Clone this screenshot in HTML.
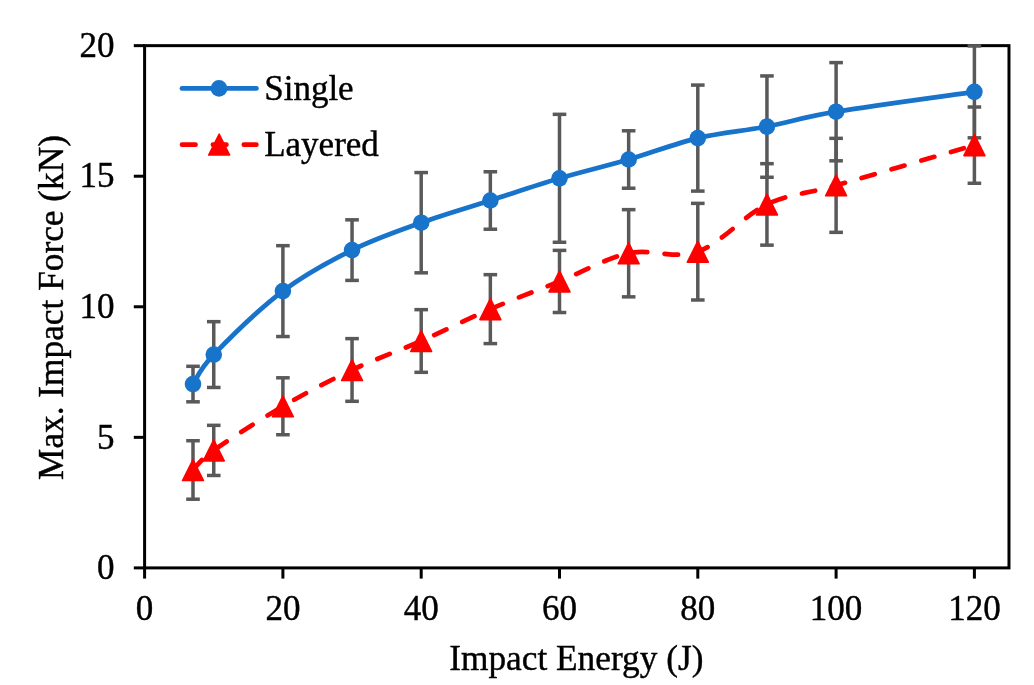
<!DOCTYPE html>
<html><head><meta charset="utf-8"><style>
html,body{margin:0;padding:0;background:#fff;}
svg{display:block;will-change:transform;filter:blur(0.45px);}
text{font-family:"Liberation Serif",serif;fill:#000;stroke:#000;stroke-width:0.4px;}
</style></head><body>
<svg width="1034" height="685" viewBox="0 0 1034 685">
<rect x="0" y="0" width="1034" height="685" fill="#fff"/>
<g stroke="#000" stroke-width="3" fill="none" stroke-linecap="square">
<rect x="144.60" y="45.65" width="864.38" height="522.25" stroke-linejoin="miter"/>
<line x1="133.80" y1="567.90" x2="144.60" y2="567.90" stroke-linecap="butt"/>
<line x1="133.80" y1="437.34" x2="144.60" y2="437.34" stroke-linecap="butt"/>
<line x1="133.80" y1="306.77" x2="144.60" y2="306.77" stroke-linecap="butt"/>
<line x1="133.80" y1="176.21" x2="144.60" y2="176.21" stroke-linecap="butt"/>
<line x1="133.80" y1="45.65" x2="144.60" y2="45.65" stroke-linecap="butt"/>
<line x1="144.60" y1="567.90" x2="144.60" y2="578.60" stroke-linecap="butt"/>
<line x1="282.90" y1="567.90" x2="282.90" y2="578.60" stroke-linecap="butt"/>
<line x1="421.20" y1="567.90" x2="421.20" y2="578.60" stroke-linecap="butt"/>
<line x1="559.50" y1="567.90" x2="559.50" y2="578.60" stroke-linecap="butt"/>
<line x1="697.80" y1="567.90" x2="697.80" y2="578.60" stroke-linecap="butt"/>
<line x1="836.10" y1="567.90" x2="836.10" y2="578.60" stroke-linecap="butt"/>
<line x1="974.40" y1="567.90" x2="974.40" y2="578.60" stroke-linecap="butt"/>
</g>
<g font-size="35" text-anchor="end">
<text x="114.5" y="579.10">0</text>
<text x="114.5" y="448.54">5</text>
<text x="114.5" y="317.97">10</text>
<text x="114.5" y="187.41">15</text>
<text x="114.5" y="56.85">20</text>
</g>
<g font-size="35" text-anchor="middle">
<text x="144.60" y="620">0</text>
<text x="282.90" y="620">20</text>
<text x="421.20" y="620">40</text>
<text x="559.50" y="620">60</text>
<text x="697.80" y="620">80</text>
<text x="836.10" y="620">100</text>
<text x="974.40" y="620">120</text>
</g>
<text x="576.3" y="669.8" font-size="35.3" text-anchor="middle">Impact Energy (J)</text>
<text transform="translate(63,307.5) rotate(-90)" font-size="35.3" text-anchor="middle">Max. Impact Force (kN)</text>
<g stroke="#595959" stroke-width="3.50" fill="none">
<line x1="193.00" y1="366.31" x2="193.00" y2="401.82"/><line x1="186.20" y1="366.31" x2="199.81" y2="366.31"/><line x1="186.20" y1="401.82" x2="199.81" y2="401.82"/><line x1="213.75" y1="321.66" x2="213.75" y2="387.46"/><line x1="206.95" y1="321.66" x2="220.55" y2="321.66"/><line x1="206.95" y1="387.46" x2="220.55" y2="387.46"/><line x1="282.90" y1="245.67" x2="282.90" y2="336.54"/><line x1="276.10" y1="245.67" x2="289.70" y2="245.67"/><line x1="276.10" y1="336.54" x2="289.70" y2="336.54"/><line x1="352.05" y1="219.82" x2="352.05" y2="280.40"/><line x1="345.25" y1="219.82" x2="358.85" y2="219.82"/><line x1="345.25" y1="280.40" x2="358.85" y2="280.40"/><line x1="421.20" y1="172.56" x2="421.20" y2="272.83"/><line x1="414.40" y1="172.56" x2="428.00" y2="172.56"/><line x1="414.40" y1="272.83" x2="428.00" y2="272.83"/><line x1="490.35" y1="171.77" x2="490.35" y2="229.22"/><line x1="483.55" y1="171.77" x2="497.15" y2="171.77"/><line x1="483.55" y1="229.22" x2="497.15" y2="229.22"/><line x1="559.50" y1="114.33" x2="559.50" y2="242.28"/><line x1="552.70" y1="114.33" x2="566.30" y2="114.33"/><line x1="552.70" y1="242.28" x2="566.30" y2="242.28"/><line x1="628.65" y1="130.78" x2="628.65" y2="188.22"/><line x1="621.85" y1="130.78" x2="635.45" y2="130.78"/><line x1="621.85" y1="188.22" x2="635.45" y2="188.22"/><line x1="697.80" y1="85.08" x2="697.80" y2="191.10"/><line x1="691.00" y1="85.08" x2="704.60" y2="85.08"/><line x1="691.00" y1="191.10" x2="704.60" y2="191.10"/><line x1="766.95" y1="75.94" x2="766.95" y2="177.26"/><line x1="760.15" y1="75.94" x2="773.75" y2="75.94"/><line x1="760.15" y1="177.26" x2="773.75" y2="177.26"/><line x1="836.10" y1="62.62" x2="836.10" y2="160.81"/><line x1="829.30" y1="62.62" x2="842.90" y2="62.62"/><line x1="829.30" y1="160.81" x2="842.90" y2="160.81"/><line x1="974.40" y1="45.91" x2="974.40" y2="137.83"/><line x1="967.60" y1="45.91" x2="981.20" y2="45.91"/><line x1="967.60" y1="137.83" x2="981.20" y2="137.83"/>
<line x1="193.00" y1="440.73" x2="193.00" y2="499.22"/><line x1="186.20" y1="440.73" x2="199.81" y2="440.73"/><line x1="186.20" y1="499.22" x2="199.81" y2="499.22"/><line x1="213.75" y1="425.33" x2="213.75" y2="475.46"/><line x1="206.95" y1="425.33" x2="220.55" y2="425.33"/><line x1="206.95" y1="475.46" x2="220.55" y2="475.46"/><line x1="282.90" y1="377.80" x2="282.90" y2="434.73"/><line x1="276.10" y1="377.80" x2="289.70" y2="377.80"/><line x1="276.10" y1="434.73" x2="289.70" y2="434.73"/><line x1="352.05" y1="338.63" x2="352.05" y2="401.30"/><line x1="345.25" y1="338.63" x2="358.85" y2="338.63"/><line x1="345.25" y1="401.30" x2="358.85" y2="401.30"/><line x1="421.20" y1="309.65" x2="421.20" y2="372.32"/><line x1="414.40" y1="309.65" x2="428.00" y2="309.65"/><line x1="414.40" y1="372.32" x2="428.00" y2="372.32"/><line x1="490.35" y1="274.66" x2="490.35" y2="343.59"/><line x1="483.55" y1="274.66" x2="497.15" y2="274.66"/><line x1="483.55" y1="343.59" x2="497.15" y2="343.59"/><line x1="559.50" y1="250.37" x2="559.50" y2="312.52"/><line x1="552.70" y1="250.37" x2="566.30" y2="250.37"/><line x1="552.70" y1="312.52" x2="566.30" y2="312.52"/><line x1="628.65" y1="209.64" x2="628.65" y2="296.85"/><line x1="621.85" y1="209.64" x2="635.45" y2="209.64"/><line x1="621.85" y1="296.85" x2="635.45" y2="296.85"/><line x1="697.80" y1="203.37" x2="697.80" y2="299.99"/><line x1="691.00" y1="203.37" x2="704.60" y2="203.37"/><line x1="691.00" y1="299.99" x2="704.60" y2="299.99"/><line x1="766.95" y1="163.68" x2="766.95" y2="245.15"/><line x1="760.15" y1="163.68" x2="773.75" y2="163.68"/><line x1="760.15" y1="245.15" x2="773.75" y2="245.15"/><line x1="836.10" y1="138.35" x2="836.10" y2="232.35"/><line x1="829.30" y1="138.35" x2="842.90" y2="138.35"/><line x1="829.30" y1="232.35" x2="842.90" y2="232.35"/><line x1="974.40" y1="107.01" x2="974.40" y2="183.26"/><line x1="967.60" y1="107.01" x2="981.20" y2="107.01"/><line x1="967.60" y1="183.26" x2="981.20" y2="183.26"/>
</g>
<path d="M193.00,384.07 C196.46,379.15 198.77,370.05 213.75,354.56 C228.73,339.07 259.85,308.52 282.90,291.11 C305.95,273.70 329.00,261.51 352.05,250.11 C375.10,238.71 398.15,230.96 421.20,222.69 C444.25,214.42 467.30,207.90 490.35,200.50 C513.40,193.10 536.45,185.13 559.50,178.30 C582.55,171.47 605.60,166.20 628.65,159.50 C651.70,152.80 674.75,143.57 697.80,138.09 C720.85,132.60 743.90,130.99 766.95,126.60 C790.00,122.20 801.53,117.50 836.10,111.71 C870.67,105.93 951.35,95.18 974.40,91.87" fill="none" stroke="#1874CB" stroke-width="4.80" stroke-linecap="round" stroke-linejoin="round"/>
<path d="M193.00,469.98 C196.46,466.71 198.77,461.01 213.75,450.39 C228.73,439.77 259.85,419.67 282.90,406.26 C305.95,392.86 329.00,380.85 352.05,369.97 C375.10,359.09 398.15,351.12 421.20,340.98 C444.25,330.84 467.30,319.05 490.35,309.13 C513.40,299.20 536.45,290.76 559.50,281.45 C582.55,272.13 605.60,258.21 628.65,253.24 C651.70,248.28 674.75,259.82 697.80,251.68 C720.85,243.54 743.90,215.47 766.95,204.41 C790.00,193.36 801.53,195.23 836.10,185.35 C870.67,175.47 951.35,151.84 974.40,145.14" fill="none" stroke="#FF0000" stroke-width="4.70" stroke-linecap="round" stroke-linejoin="round" stroke-dasharray="13.5 17.4"/>
<g fill="#1874CB">
<circle cx="193.00" cy="384.07" r="8.30"/>
<circle cx="213.75" cy="354.56" r="8.30"/>
<circle cx="282.90" cy="291.11" r="8.30"/>
<circle cx="352.05" cy="250.11" r="8.30"/>
<circle cx="421.20" cy="222.69" r="8.30"/>
<circle cx="490.35" cy="200.50" r="8.30"/>
<circle cx="559.50" cy="178.30" r="8.30"/>
<circle cx="628.65" cy="159.50" r="8.30"/>
<circle cx="697.80" cy="138.09" r="8.30"/>
<circle cx="766.95" cy="126.60" r="8.30"/>
<circle cx="836.10" cy="111.71" r="8.30"/>
<circle cx="974.40" cy="91.87" r="8.30"/>
</g>
<g fill="#FF0000" stroke="#FF0000" stroke-width="1.5" stroke-linejoin="round">
<polygon points="193.00,459.48 182.50,480.48 203.50,480.48"/>
<polygon points="213.75,439.89 203.25,460.89 224.25,460.89"/>
<polygon points="282.90,395.76 272.40,416.76 293.40,416.76"/>
<polygon points="352.05,359.47 341.55,380.47 362.55,380.47"/>
<polygon points="421.20,330.48 410.70,351.48 431.70,351.48"/>
<polygon points="490.35,298.63 479.85,319.63 500.85,319.63"/>
<polygon points="559.50,270.95 549.00,291.95 570.00,291.95"/>
<polygon points="628.65,242.74 618.15,263.74 639.15,263.74"/>
<polygon points="697.80,241.18 687.30,262.18 708.30,262.18"/>
<polygon points="766.95,193.91 756.45,214.91 777.45,214.91"/>
<polygon points="836.10,174.85 825.60,195.85 846.60,195.85"/>
<polygon points="974.40,134.64 963.90,155.64 984.90,155.64"/>
</g>
<line x1="182" y1="88.4" x2="256.4" y2="88.4" stroke="#1874CB" stroke-width="4.80" stroke-linecap="round"/>
<circle cx="219" cy="88.4" r="8.30" fill="#1874CB"/>
<line x1="182" y1="144.7" x2="256.4" y2="144.7" stroke="#FF0000" stroke-width="4.7" stroke-linecap="round" stroke-dasharray="13.5 17.4"/>
<g fill="#FF0000" stroke="#FF0000" stroke-width="1.5" stroke-linejoin="round"><polygon points="219.15,134.10 208.65,155.10 229.65,155.10"/></g>
<text x="264.2" y="99.5" font-size="35">Single</text>
<text x="264.2" y="155.6" font-size="35">Layered</text>
</svg></body></html>
